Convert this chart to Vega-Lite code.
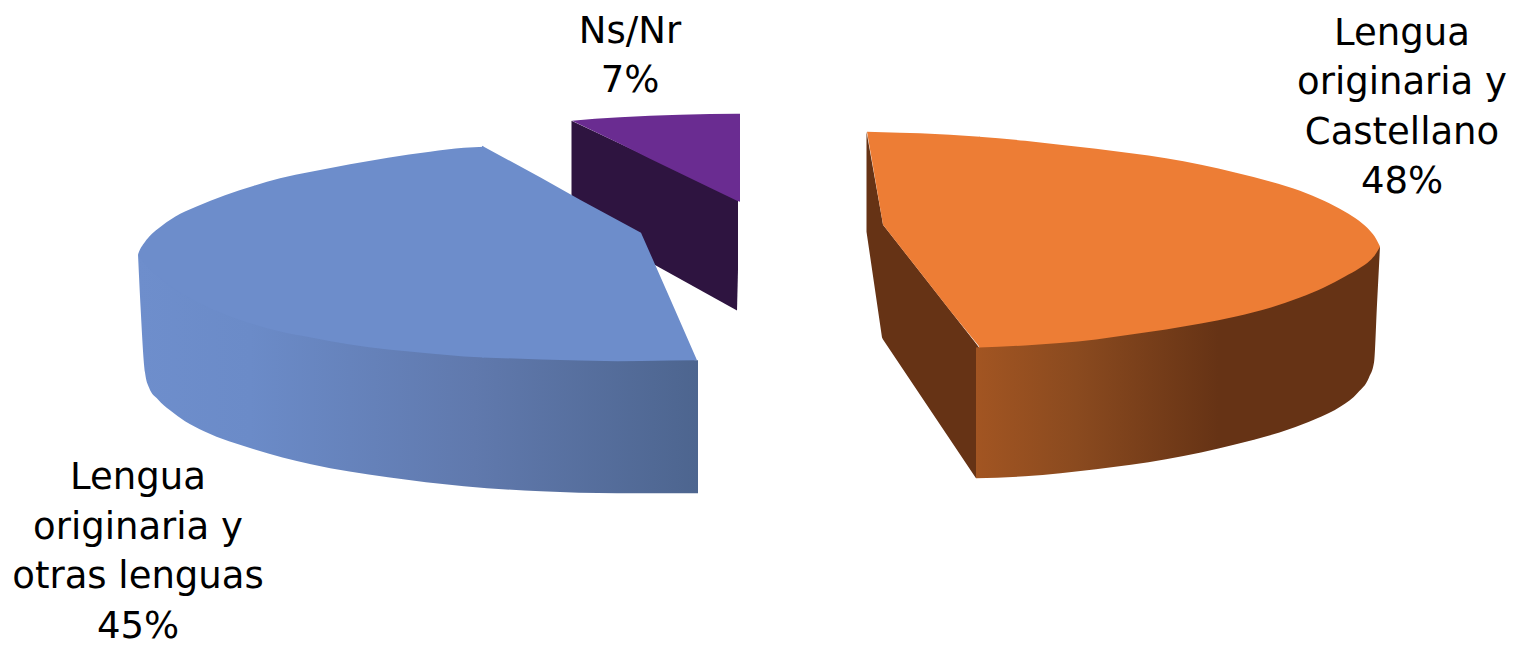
{"$schema":"https://vega.github.io/schema/vega-lite/v6.json","width":1515,"height":645,"padding":0,"autosize":{"type":"fit","contains":"padding"},"background":"white","config":{"view":{"stroke":null}},
"datasets":{"outline":[
{"part":"ns_side","x":571.5,"top":121,"bottom":219},{"part":"ns_side","x":737,"top":199,"bottom":311},{"part":"ns_side","x":738,"top":199.5,"bottom":270},
{"part":"ns_top","x":572,"top":121,"bottom":121},{"part":"ns_top","x":595,"top":119,"bottom":132},{"part":"ns_top","x":620,"top":117.5,"bottom":144},{"part":"ns_top","x":650,"top":116,"bottom":159},{"part":"ns_top","x":680,"top":115,"bottom":173.5},{"part":"ns_top","x":710,"top":114.3,"bottom":188},{"part":"ns_top","x":737,"top":114,"bottom":201},{"part":"ns_top","x":740,"top":114,"bottom":202},
{"part":"otras_side","x":138,"top":255,"bottom":255},{"part":"otras_side","x":141,"top":257,"bottom":316},{"part":"otras_side","x":145,"top":260,"bottom":373},{"part":"otras_side","x":149,"top":263,"bottom":388},{"part":"otras_side","x":158,"top":271,"bottom":400},{"part":"otras_side","x":170,"top":280,"bottom":411},{"part":"otras_side","x":185,"top":291,"bottom":422},{"part":"otras_side","x":204,"top":302,"bottom":432},{"part":"otras_side","x":254,"top":320,"bottom":450},{"part":"otras_side","x":311,"top":333,"bottom":465},{"part":"otras_side","x":388,"top":345,"bottom":478},{"part":"otras_side","x":464,"top":352,"bottom":487},{"part":"otras_side","x":541,"top":355,"bottom":492},{"part":"otras_side","x":617,"top":357,"bottom":494},{"part":"otras_side","x":698,"top":360.7,"bottom":494},
{"part":"otras_top_left","x":138,"top":255,"bottom":255},{"part":"otras_top_left","x":140,"top":250,"bottom":258},{"part":"otras_top_left","x":143,"top":245,"bottom":262},{"part":"otras_top_left","x":150,"top":236,"bottom":270},{"part":"otras_top_left","x":158,"top":229,"bottom":277},{"part":"otras_top_left","x":175,"top":217,"bottom":290},{"part":"otras_top_left","x":196,"top":207,"bottom":302},{"part":"otras_top_left","x":225,"top":195.5,"bottom":315},{"part":"otras_top_left","x":254,"top":186,"bottom":325},{"part":"otras_top_left","x":280,"top":178.5,"bottom":332},{"part":"otras_top_left","x":311,"top":172,"bottom":338},{"part":"otras_top_left","x":350,"top":164.5,"bottom":345},{"part":"otras_top_left","x":388,"top":158,"bottom":350},{"part":"otras_top_left","x":430,"top":152,"bottom":354},{"part":"otras_top_left","x":464,"top":148,"bottom":357},{"part":"otras_top_left","x":484,"top":147,"bottom":358},
{"part":"otras_top_right","x":482,"top":146,"bottom":358},{"part":"otras_top_right","x":541,"top":178,"bottom":360},{"part":"otras_top_right","x":580,"top":200,"bottom":361},{"part":"otras_top_right","x":617,"top":220,"bottom":361.7},{"part":"otras_top_right","x":641,"top":233,"bottom":361.5},{"part":"otras_top_right","x":670,"top":299,"bottom":361},{"part":"otras_top_right","x":697,"top":360.7,"bottom":360.7},
{"part":"cast_inner","x":866.5,"top":132,"bottom":232},{"part":"cast_inner","x":882,"top":219,"bottom":338},{"part":"cast_inner","x":883,"top":225,"bottom":340},{"part":"cast_inner","x":976,"top":344,"bottom":479},{"part":"cast_inner","x":979,"top":348,"bottom":348},
{"part":"cast_side","x":976,"top":348,"bottom":479},{"part":"cast_side","x":1025,"top":343,"bottom":477},{"part":"cast_side","x":1096,"top":337,"bottom":470},{"part":"cast_side","x":1166,"top":327,"bottom":460},{"part":"cast_side","x":1236,"top":314,"bottom":445},{"part":"cast_side","x":1289,"top":299,"bottom":430},{"part":"cast_side","x":1315,"top":288,"bottom":420},{"part":"cast_side","x":1341,"top":276,"bottom":407},{"part":"cast_side","x":1358,"top":265,"bottom":393},{"part":"cast_side","x":1369,"top":258,"bottom":378},{"part":"cast_side","x":1374,"top":254,"bottom":363},{"part":"cast_side","x":1377,"top":250,"bottom":305},{"part":"cast_side","x":1380,"top":247,"bottom":247},
{"part":"cast_top_left","x":867,"top":132,"bottom":132},{"part":"cast_top_left","x":883,"top":132.5,"bottom":225},{"part":"cast_top_left","x":900,"top":133,"bottom":247},{"part":"cast_top_left","x":920,"top":133.5,"bottom":272.5},{"part":"cast_top_left","x":950,"top":135,"bottom":311},{"part":"cast_top_left","x":980,"top":137,"bottom":348},
{"part":"cast_top_right","x":979,"top":137,"bottom":348},{"part":"cast_top_right","x":1025,"top":141,"bottom":346},{"part":"cast_top_right","x":1060,"top":145,"bottom":343.5},{"part":"cast_top_right","x":1096,"top":149,"bottom":340},{"part":"cast_top_right","x":1131,"top":153.5,"bottom":335},{"part":"cast_top_right","x":1166,"top":158.5,"bottom":330},{"part":"cast_top_right","x":1201,"top":165,"bottom":324},{"part":"cast_top_right","x":1236,"top":173,"bottom":317},{"part":"cast_top_right","x":1271,"top":182,"bottom":308},{"part":"cast_top_right","x":1300,"top":191,"bottom":298},{"part":"cast_top_right","x":1324,"top":201,"bottom":288},{"part":"cast_top_right","x":1345,"top":212,"bottom":277},{"part":"cast_top_right","x":1359,"top":221,"bottom":269},{"part":"cast_top_right","x":1370,"top":231,"bottom":261},{"part":"cast_top_right","x":1376,"top":239,"bottom":254},{"part":"cast_top_right","x":1380,"top":247,"bottom":247}
],"labels":[
{"label":"Ns/Nr\n7%","share":7,"x":630,"y":43},
{"label":"Lengua\noriginaria y\nCastellano\n48%","share":48,"x":1402,"y":45},
{"label":"Lengua\noriginaria y\notras lenguas\n45%","share":45,"x":138,"y":490}
]},
"encoding":{"x":{"field":"x","type":"quantitative","scale":{"domain":[0,1515],"nice":false,"zero":false},"axis":null},"y":{"field":"top","type":"quantitative","scale":{"domain":[645,0],"nice":false,"zero":false},"axis":null},"y2":{"field":"bottom"}},
"layer":[
{"data":{"name":"outline"},"transform":[{"filter":"datum.part=='ns_side'"}],"mark":{"type":"area","color":"#2E1440"}},
{"data":{"name":"outline"},"transform":[{"filter":"datum.part=='ns_top'"}],"mark":{"type":"area","color":"#6A2C91"}},
{"data":{"name":"outline"},"transform":[{"filter":"datum.part=='otras_side'"}],"mark":{"type":"area","interpolate":"monotone","color":{"gradient":"linear","x1":0,"x2":1,"y1":0,"y2":0,"stops":[{"offset":0,"color":"#6E8ECC"},{"offset":0.2,"color":"#6B8BC8"},{"offset":0.6,"color":"#6079AD"},{"offset":1,"color":"#4D658F"}]}}},
{"data":{"name":"outline"},"transform":[{"filter":"datum.part=='otras_top_left'"}],"mark":{"type":"area","color":"#6D8DCB","interpolate":"monotone"}},
{"data":{"name":"outline"},"transform":[{"filter":"datum.part=='otras_top_right'"}],"mark":{"type":"area","color":"#6D8DCB"}},
{"data":{"name":"outline"},"transform":[{"filter":"datum.part=='cast_inner'"}],"mark":{"type":"area","color":"#663315"}},
{"data":{"name":"outline"},"transform":[{"filter":"datum.part=='cast_side'"}],"mark":{"type":"area","interpolate":"monotone","color":{"gradient":"linear","x1":0,"x2":1,"y1":0,"y2":0,"stops":[{"offset":0,"color":"#A25522"},{"offset":0.25,"color":"#8A4A1F"},{"offset":0.6,"color":"#663315"},{"offset":1,"color":"#663315"}]}}},
{"data":{"name":"outline"},"transform":[{"filter":"datum.part=='cast_top_left'"}],"mark":{"type":"area","color":"#ED7D35"}},
{"data":{"name":"outline"},"transform":[{"filter":"datum.part=='cast_top_right'"}],"mark":{"type":"area","color":"#ED7D35","interpolate":"monotone"}},
{"data":{"name":"labels"},"mark":{"type":"text","font":"DejaVu Sans","fontSize":37,"lineHeight":49.5,"align":"center","baseline":"alphabetic","color":"#000000","lineBreak":"\n"},"encoding":{"x":{"field":"x","type":"quantitative"},"y":{"field":"y","type":"quantitative"},"y2":null,"text":{"field":"label"}}}
]}
